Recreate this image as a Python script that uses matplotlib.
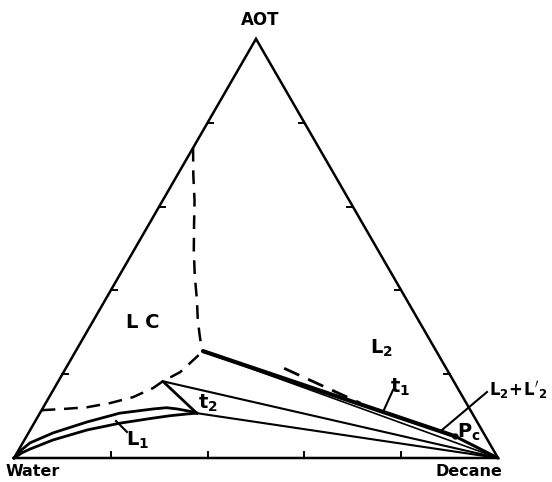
import numpy as np
import matplotlib.pyplot as plt

# compositions in % (AOT, decane), water = rest
lc_top_aot = [74.0, 67.5, 61.4, 55.4, 49.5, 43.5, 37.6, 33.5, 29.8, 27.4, 25.5]
lc_top_dec = [0.0, 3.3, 6.6, 9.5, 12.4, 15.6, 19.0, 21.2, 23.4, 24.9, 26.3]

lc_low_aot = [11.4, 11.7, 12.1, 13.1, 14.5, 16.7, 18.3, 20.5, 25.5]
lc_low_dec = [0.0, 4.3, 9.0, 13.3, 17.3, 20.4, 21.6, 24.1, 26.3]

l1_up_aot = [0.0, 2.0, 3.6, 6.0, 8.6, 10.7, 11.7, 12.0, 11.7, 11.0, 10.7]
l1_up_dec = [0.0, 0.6, 1.5, 5.1, 10.8, 16.5, 22.9, 25.5, 27.9, 31.5, 32.4]

l1_lo_aot = [0.0, 1.2, 2.1, 4.3, 6.7, 8.3, 9.5, 10.1, 10.5, 10.7]
l1_lo_dec = [0.0, 1.0, 2.2, 5.9, 11.8, 17.7, 23.9, 27.3, 30.5, 32.4]

l2_dash_aot = [21.4, 13.1]
l2_dash_dec = [45.1, 65.0]

# special points (AOT, decane)
junction = (25.5, 26.3)
t2_top = (18.3, 21.6)
t2_bot = (10.7, 32.4)
pc = (5.2, 88.5)
decane = (0.0, 100.0)

ticks = [20, 40, 60, 80]

plt.rcParams['font.family'] = ['DejaVu Sans']
plt.rcParams['mathtext.default'] = 'bf'
S = np.sqrt(3) / 2


def tern(aot, dec):
    aot = np.asarray(aot, float) / 100
    dec = np.asarray(dec, float) / 100
    return dec + aot / 2, aot * S


def px(x, y):
    # picture position -> axes data
    return (x - 14) / 484, (458 - y) / 484


def seg(p, q, **kw):
    x, y = tern([p[0], q[0]], [p[1], q[1]])
    ax.plot(x, y, color='black', solid_capstyle='round', **kw)


fig = plt.figure(figsize=(5.52, 4.82), dpi=100)
ax = fig.add_axes([0, 0, 1, 1])
ax.set_xlim(-14 / 484, 538 / 484)
ax.set_ylim(-24 / 484, 458 / 484)
ax.axis('off')

# triangle
ax.plot([0, 1, 0.5, 0], [0, 0, S, 0], color='black', lw=1.8,
        solid_joinstyle='miter')
tl = 0.012
for t in ticks:
    f = t / 100
    ax.plot([f, f], [0, tl], color='black', lw=1.4)
    ax.plot([f / 2, f / 2 + tl], [f * S, f * S], color='black', lw=1.4)
    ax.plot([1 - f / 2, 1 - f / 2 - tl], [f * S, f * S], color='black', lw=1.4)

dash = dict(color='black', lw=1.8, linestyle=(0, (5.5, 3.5)))
x, y = tern(lc_top_aot, lc_top_dec)
ax.plot(x, y, **dash)
x, y = tern(lc_low_aot, lc_low_dec)
ax.plot(x, y, **dash)
x, y = tern(l2_dash_aot, l2_dash_dec)
ax.plot(x, y, color='black', lw=2.0, linestyle=(0, (6, 3.5)))

# L1 boundary
x, y = tern(l1_up_aot, l1_up_dec)
ax.plot(x, y, color='black', lw=2.0)
x, y = tern(l1_lo_aot, l1_lo_dec)
ax.plot(x, y, color='black', lw=2.0)

# tie lines / three-phase triangle
seg(junction, pc, lw=3.0)
seg(pc, decane, lw=2.2)
seg(junction, decane, lw=1.2)
seg(t2_top, t2_bot, lw=2.0)
seg(t2_top, decane, lw=1.5)
seg(t2_bot, decane, lw=1.5)
x, y = tern([pc[0]], [pc[1]])
ax.plot(x, y, 'o', color='black', ms=3.5)

# pointers
for a, b in [((116, 421), (127, 432)), ((383, 412), (393, 390)),
             ((442, 430), (487, 392))]:
    p, q = px(*a), px(*b)
    ax.plot([p[0], q[0]], [p[1], q[1]], color='black', lw=1.5)

tk = dict(ha='center', va='center', color='black', fontweight='bold')
ax.text(*px(260, 20), 'AOT', fontsize=12, **tk)
ax.text(*px(33, 472), 'Water', fontsize=11.5, **tk)
ax.text(*px(469, 472), 'Decane', fontsize=11.5, **tk)
ax.text(*px(143, 322), 'L C', fontsize=14, **tk)
ax.text(*px(381, 348), r'$L_2$', fontsize=14, **tk)
ax.text(*px(400, 387), r'$t_1$', fontsize=14, **tk)
ax.text(*px(208, 403), r'$t_2$', fontsize=14, **tk)
ax.text(*px(138, 440), r'$L_1$', fontsize=14, **tk)
ax.text(*px(469, 432), r'$P_c$', fontsize=14, **tk)
ax.text(*px(489, 390), r"$L_2\!+\!L'_2$", fontsize=12, ha='left',
        va='center', color='black')

fig.savefig('out.png', dpi=100)
